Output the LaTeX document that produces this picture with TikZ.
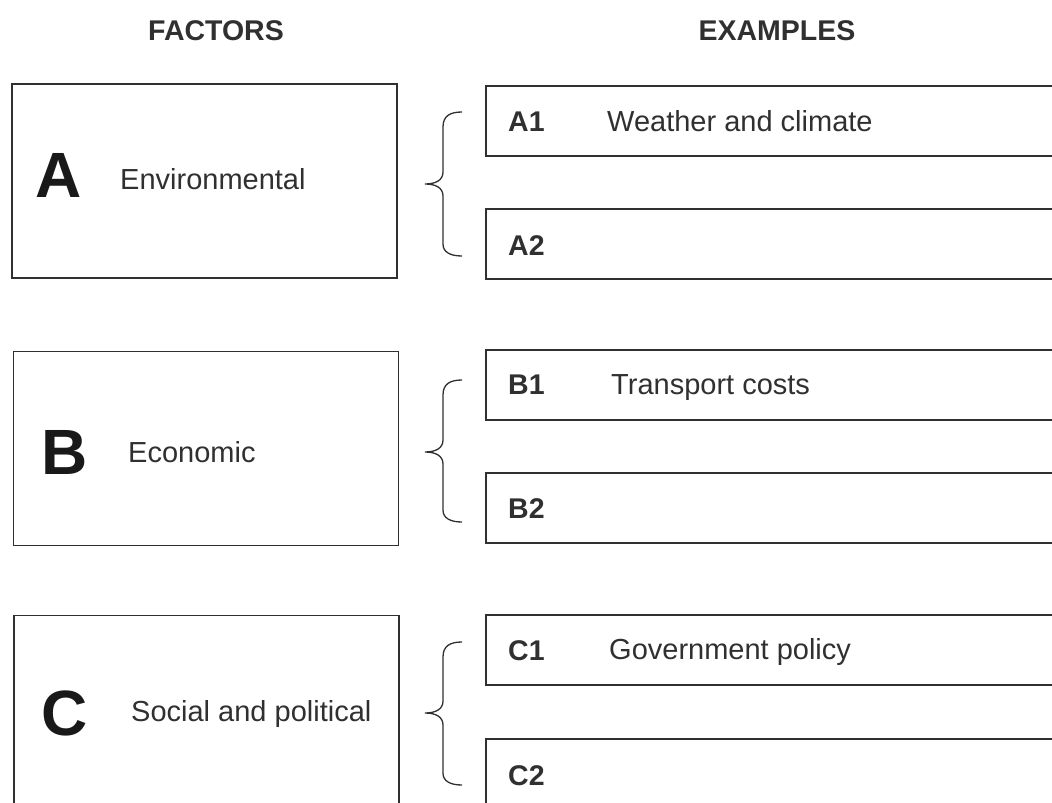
\documentclass[tikz,border=0pt]{standalone}
\usepackage{fontspec}
\setmainfont{Liberation Sans}
\usetikzlibrary{positioning}
\definecolor{ink}{HTML}{303030}
\tikzset{
    factor/.style={rectangle,draw=ink,line width=1.9pt,minimum width=385pt,minimum height=194pt,inner sep=0pt},
    example/.style={rectangle,draw=ink,line width=1.9pt,minimum width=640pt,minimum height=70pt,inner sep=0pt},
    heading/.style={font=\fontsize{28.5}{32}\selectfont\bfseries,text=ink,inner sep=0pt,anchor=base},
    bigletter/.style={font=\fontsize{64}{70}\selectfont\bfseries,text=black!90,inner sep=0pt,anchor=base west},
    factortext/.style={font=\fontsize{29}{34}\selectfont,text=ink,inner sep=0pt,anchor=base west},
    exlabel/.style={font=\fontsize{28.5}{34}\selectfont\bfseries,text=ink,inner sep=0pt,anchor=base west},
    curly/.style={draw=ink,line width=1.3pt}
}

\begin{document}
\begin{tikzpicture}[x=1pt,y=-1pt]

    \useasboundingbox (0,0) rectangle (1052,803);
    \clip (0,0) rectangle (1052,803);

    \node[heading] (factors head)  at (216,40) {FACTORS};
    \node[heading] (examples head) at (777,40) {EXAMPLES};

    % factors
    \node[factor] (A) at (204.5,181) {};
    \node[bigletter]  (A letter) at (35,197) {A};
    \node[factortext] (A text)   at (120,189) {Environmental};

    \node[factor] (B) at (206,448.5) {};
    \node[bigletter]  (B letter) at (41,474) {B};
    \node[factortext] (B text)   at (128,462) {Economic};

    \node[factor] (C) at (206.5,712.5) {};
    \node[bigletter]  (C letter) at (41,735) {C};
    \node[factortext] (C text)   at (131,721) {Social and political};

    % examples
    \node[example] (A1) at (806,121) {};
    \node[exlabel]    (A1 label) at (508,131) {A1};
    \node[factortext] (A1 text)  at (607,131) {Weather and climate};
    \node[example] (A2) at (806,244) {};
    \node[exlabel]    (A2 label) at (508,255) {A2};

    \node[example] (B1) at (806,385) {};
    \node[exlabel]    (B1 label) at (508,394) {B1};
    \node[factortext] (B1 text)  at (611,394) {Transport costs};
    \node[example] (B2) at (806,508) {};
    \node[exlabel]    (B2 label) at (508,518) {B2};

    \node[example] (C1) at (806,650) {};
    \node[exlabel]    (C1 label) at (508,660) {C1};
    \node[factortext] (C1 text)  at (609,659) {Government policy};
    \node[example] (C2) at (806,774) {};
    \node[exlabel]    (C2 label) at (508,785) {C2};

    % braces
    \draw[curly] (462,112) .. controls (450,112) and (443,116) .. (443,127) -- (443,172)
        .. controls (443,180) and (436,184) .. (425,184)
        .. controls (436,184) and (443,188) .. (443,196) -- (443,244)
        .. controls (443,252) and (450,256) .. (462,256);
    \draw[curly] (462,380) .. controls (450,380) and (443,384) .. (443,395) -- (443,440)
        .. controls (443,448) and (436,452) .. (425,452)
        .. controls (436,452) and (443,456) .. (443,464) -- (443,510)
        .. controls (443,518) and (450,522) .. (462,522);
    \draw[curly] (462,642) .. controls (450,642) and (443,646) .. (443,657) -- (443,701)
        .. controls (443,709) and (436,713) .. (425,713)
        .. controls (436,713) and (443,717) .. (443,725) -- (443,773)
        .. controls (443,781) and (450,785) .. (462,785);

\end{tikzpicture}
\end{document}
